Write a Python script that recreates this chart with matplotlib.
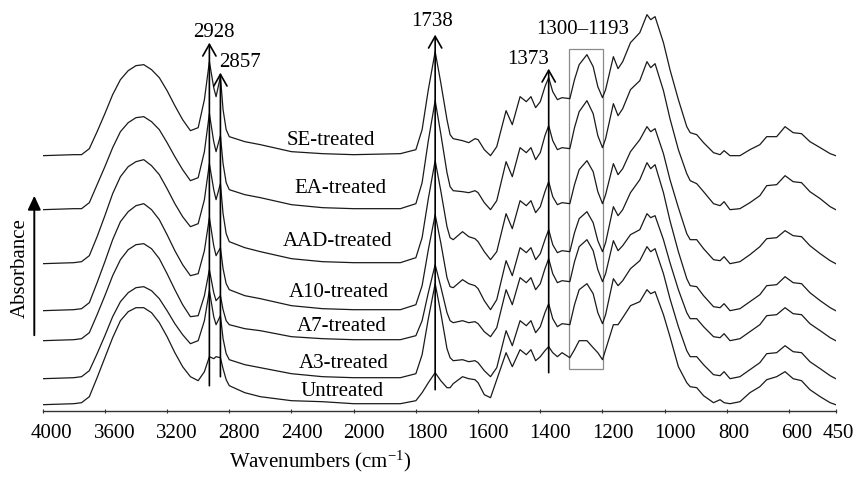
import numpy as np
import matplotlib
matplotlib.use("Agg")
import matplotlib.pyplot as plt
from matplotlib.patches import Rectangle, FancyArrowPatch
from matplotlib.transforms import ScaledTranslation

plt.rcParams["font.family"] = ["Liberation Serif", "DejaVu Serif"]
plt.rcParams["mathtext.fontset"] = "custom"
plt.rcParams["mathtext.rm"] = "Liberation Serif"
plt.rcParams["mathtext.default"] = "regular"

# wavenumber grid (cm-1)
wavenumber = [
    4000, 3800, 3750, 3700, 3650, 3600, 3550, 3500, 3450, 3400,
    3350, 3300, 3250, 3200, 3150, 3100, 3050, 3000, 2960, 2928,
    2900, 2885, 2857, 2840, 2820, 2800, 2700, 2600, 2400, 2200,
    2000, 1850, 1800, 1780, 1760, 1738, 1720, 1700, 1690, 1680,
    1650, 1630, 1610, 1600, 1580, 1560, 1540, 1510, 1490, 1465,
    1445, 1430, 1415, 1400, 1385, 1373, 1360, 1345, 1330, 1305,
    1290, 1275, 1250, 1230, 1215, 1200, 1190, 1165, 1150, 1135,
    1110, 1080, 1057, 1045, 1031, 1004, 983, 956, 929, 918,
    897, 875, 843, 822, 809, 790, 758, 726, 694, 672,
    640, 613, 587, 560, 533, 500, 468, 450,
]

# absorbance above each trace's own baseline (arbitrary units)
se_treated = [
    0.00, 0.01, 0.01, 0.07, 0.24, 0.42, 0.61, 0.76, 0.85, 0.90,
    0.91, 0.86, 0.78, 0.65, 0.50, 0.36, 0.25, 0.28, 0.56, 0.94,
    0.68, 0.59, 0.79, 0.46, 0.26, 0.19, 0.14, 0.11, 0.04, 0.02,
    0.01, 0.02, 0.06, 0.26, 0.66, 1.04, 0.73, 0.36, 0.21, 0.17,
    0.15, 0.13, 0.17, 0.16, 0.06, 0.00, 0.09, 0.45, 0.31, 0.59,
    0.54, 0.59, 0.48, 0.54, 0.69, 0.78, 0.64, 0.56, 0.58, 0.57,
    0.76, 0.91, 1.01, 0.89, 0.69, 0.58, 0.66, 0.99, 0.87, 0.94,
    1.13, 1.23, 1.41, 1.36, 1.39, 1.13, 0.86, 0.56, 0.29, 0.23,
    0.21, 0.13, 0.03, 0.01, 0.05, 0.00, 0.00, 0.06, 0.11, 0.19,
    0.19, 0.29, 0.23, 0.22, 0.14, 0.08, 0.02, 0.00,
]
ea_treated = [
    0.00, 0.01, 0.01, 0.07, 0.25, 0.43, 0.62, 0.78, 0.87, 0.92,
    0.93, 0.88, 0.80, 0.67, 0.53, 0.40, 0.29, 0.32, 0.58, 0.96,
    0.68, 0.58, 0.74, 0.46, 0.27, 0.20, 0.15, 0.12, 0.05, 0.02,
    0.01, 0.01, 0.06, 0.27, 0.69, 1.09, 0.76, 0.37, 0.23, 0.19,
    0.18, 0.17, 0.19, 0.17, 0.07, 0.00, 0.09, 0.48, 0.33, 0.62,
    0.57, 0.62, 0.50, 0.57, 0.74, 0.84, 0.69, 0.60, 0.62, 0.61,
    0.82, 0.98, 1.09, 0.96, 0.74, 0.62, 0.71, 1.06, 0.94, 1.01,
    1.20, 1.29, 1.48, 1.42, 1.46, 1.19, 0.91, 0.60, 0.36, 0.29,
    0.26, 0.18, 0.06, 0.04, 0.08, 0.00, 0.01, 0.07, 0.14, 0.24,
    0.25, 0.34, 0.28, 0.27, 0.18, 0.11, 0.03, 0.00,
]
aad_treated = [
    0.00, 0.01, 0.02, 0.08, 0.27, 0.48, 0.70, 0.87, 0.97, 1.02,
    1.04, 0.98, 0.89, 0.75, 0.60, 0.47, 0.37, 0.40, 0.64, 1.00,
    0.74, 0.64, 0.80, 0.50, 0.30, 0.22, 0.16, 0.12, 0.05, 0.02,
    0.01, 0.01, 0.06, 0.26, 0.65, 1.03, 0.73, 0.37, 0.26, 0.24,
    0.32, 0.27, 0.25, 0.22, 0.12, 0.04, 0.12, 0.50, 0.35, 0.63,
    0.58, 0.63, 0.51, 0.57, 0.72, 0.82, 0.67, 0.59, 0.61, 0.60,
    0.79, 0.94, 1.03, 0.92, 0.72, 0.60, 0.69, 1.00, 0.89, 0.95,
    1.12, 1.24, 1.37, 1.32, 1.35, 1.10, 0.84, 0.56, 0.30, 0.24,
    0.24, 0.15, 0.04, 0.03, 0.07, 0.00, 0.02, 0.09, 0.17, 0.25,
    0.26, 0.33, 0.28, 0.27, 0.18, 0.10, 0.03, 0.00,
]
a10_treated = [
    0.00, 0.01, 0.02, 0.08, 0.28, 0.49, 0.71, 0.89, 0.99, 1.05,
    1.07, 1.01, 0.91, 0.76, 0.60, 0.46, 0.35, 0.37, 0.60, 0.93,
    0.65, 0.55, 0.63, 0.42, 0.27, 0.21, 0.15, 0.12, 0.05, 0.02,
    0.01, 0.01, 0.06, 0.25, 0.61, 0.96, 0.68, 0.33, 0.24, 0.23,
    0.31, 0.27, 0.25, 0.22, 0.10, 0.01, 0.11, 0.50, 0.35, 0.63,
    0.58, 0.63, 0.51, 0.57, 0.71, 0.81, 0.66, 0.58, 0.60, 0.59,
    0.78, 0.92, 0.99, 0.88, 0.70, 0.59, 0.68, 1.04, 0.95, 1.01,
    1.18, 1.31, 1.48, 1.42, 1.46, 1.18, 0.90, 0.59, 0.32, 0.25,
    0.24, 0.15, 0.04, 0.03, 0.07, 0.00, 0.02, 0.09, 0.16, 0.25,
    0.26, 0.34, 0.28, 0.27, 0.18, 0.10, 0.03, 0.00,
]
a7_treated = [
    0.00, 0.01, 0.02, 0.08, 0.26, 0.45, 0.65, 0.81, 0.91, 0.96,
    0.97, 0.92, 0.82, 0.67, 0.51, 0.36, 0.24, 0.25, 0.45, 0.71,
    0.48, 0.40, 0.45, 0.31, 0.20, 0.16, 0.12, 0.10, 0.04, 0.02,
    0.01, 0.01, 0.05, 0.20, 0.48, 0.76, 0.54, 0.28, 0.20, 0.18,
    0.20, 0.18, 0.19, 0.17, 0.09, 0.04, 0.13, 0.51, 0.36, 0.63,
    0.58, 0.63, 0.51, 0.57, 0.72, 0.82, 0.67, 0.58, 0.60, 0.59,
    0.79, 0.94, 1.01, 0.90, 0.71, 0.59, 0.67, 1.00, 0.90, 0.95,
    1.06, 1.11, 1.27, 1.23, 1.25, 1.01, 0.78, 0.51, 0.28, 0.22,
    0.22, 0.14, 0.04, 0.03, 0.07, 0.00, 0.02, 0.09, 0.16, 0.25,
    0.26, 0.33, 0.27, 0.26, 0.17, 0.10, 0.03, 0.00,
]
a3_treated = [
    0.00, 0.01, 0.02, 0.08, 0.25, 0.43, 0.62, 0.77, 0.86, 0.91,
    0.92, 0.88, 0.80, 0.68, 0.55, 0.44, 0.35, 0.38, 0.58, 0.88,
    0.62, 0.54, 0.63, 0.40, 0.25, 0.19, 0.14, 0.11, 0.05, 0.02,
    0.01, 0.01, 0.05, 0.24, 0.60, 0.95, 0.66, 0.30, 0.21, 0.18,
    0.19, 0.17, 0.18, 0.16, 0.08, 0.02, 0.11, 0.48, 0.33, 0.58,
    0.53, 0.58, 0.46, 0.52, 0.66, 0.75, 0.60, 0.52, 0.55, 0.54,
    0.74, 0.89, 0.95, 0.85, 0.66, 0.55, 0.64, 1.00, 0.93, 0.98,
    1.10, 1.18, 1.32, 1.27, 1.30, 1.05, 0.80, 0.52, 0.28, 0.22,
    0.22, 0.14, 0.04, 0.03, 0.07, 0.00, 0.02, 0.09, 0.16, 0.25,
    0.26, 0.33, 0.27, 0.26, 0.17, 0.10, 0.03, 0.00,
]
untreated = [
    0.00, 0.01, 0.02, 0.08, 0.27, 0.47, 0.67, 0.84, 0.93, 0.97,
    0.97, 0.92, 0.82, 0.68, 0.52, 0.38, 0.28, 0.24, 0.33, 0.48,
    0.46, 0.48, 0.47, 0.36, 0.25, 0.19, 0.12, 0.08, 0.04, 0.03,
    0.01, 0.01, 0.04, 0.12, 0.22, 0.32, 0.24, 0.17, 0.17, 0.21,
    0.28, 0.26, 0.25, 0.22, 0.10, 0.07, 0.25, 0.52, 0.38, 0.55,
    0.50, 0.55, 0.44, 0.48, 0.54, 0.58, 0.52, 0.48, 0.52, 0.47,
    0.55, 0.64, 0.64, 0.57, 0.52, 0.45, 0.55, 0.80, 0.80, 0.87,
    0.99, 1.03, 1.15, 1.11, 1.13, 0.90, 0.68, 0.38, 0.22, 0.18,
    0.17, 0.09, 0.02, 0.05, 0.02, 0.01, 0.03, 0.12, 0.18, 0.25,
    0.28, 0.33, 0.26, 0.24, 0.15, 0.08, 0.02, 0.00,
]

sample_names = ["SE-treated", "EA-treated", "AAD-treated", "A10-treated",
                "A7-treated", "A3-treated", "Untreated"]
spectra = [se_treated, ea_treated, aad_treated, a10_treated,
           a7_treated, a3_treated, untreated]
stack_offset = [2.49, 1.95, 1.41, 0.94, 0.64, 0.26, 0.00]

marked_bands = [2928, 2857, 1738, 1373]
box_band = (1307, 1197)


# split axis: 4000-2000 drawn at half the scale of 2000-450
def fwd(w):
    w = np.asarray(w, dtype=float)
    return np.where(w > 2000, 2000 + (w - 2000) / 2.0, w)


def inv(p):
    p = np.asarray(p, dtype=float)
    return np.where(p > 2000, 2000 + (p - 2000) * 2.0, p)


fig = plt.figure(figsize=(8.57, 4.83), dpi=100)
ax = fig.add_axes([0.0498, 0.1497, 0.9254, 0.8297])
ax.set_xscale("function", functions=(fwd, inv))
ax.set_xlim(4000, 450)
ax.set_ylim(-0.06, 3.947)

for name, spec, off in zip(sample_names, spectra, stack_offset):
    ax.plot(wavenumber, np.array(spec) + off, color="#1a1a1a", lw=0.9)

# peak markers
arrow_spans = {2928: (0.19, 3.62), 2857: (0.28, 3.32), 1738: (0.15, 3.70), 1373: (0.32, 3.36)}
label_pos = {2928: (2898, 3.72), 2857: (2731, 3.42), 1738: (1747, 3.83), 1373: (1439, 3.45)}
for band in marked_bands:
    y0, y1 = arrow_spans[band]
    ax.annotate("", xy=(band, y1), xytext=(band, y0),
                arrowprops=dict(arrowstyle="->,head_length=0.6,head_width=0.34",
                                lw=1.2, color="black", mutation_scale=14,
                                shrinkA=0, shrinkB=0))
    lx, ly = label_pos[band]
    ax.text(lx, ly, str(band), ha="center", va="center", fontsize=15)

ax.add_patch(Rectangle((box_band[1], 0.354), box_band[0] - box_band[1], 3.2,
                       fill=False, edgecolor="#8a8a8a", lw=0.9))
ax.text(1264, 3.75, "1300\u20131193", ha="center", va="center", fontsize=15)

# sample labels
name_pos = [(2147, 2.64), (2084, 2.157), (2104, 1.63), (2095, 1.12),
            (2077, 0.78), (2067, 0.407), (2072, 0.13)]
for name, (lx, ly) in zip(sample_names, name_pos):
    ax.text(lx, ly, name, ha="center", va="center", fontsize=15)

# axes styling
ticks = [4000, 3600, 3200, 2800, 2400, 2000, 1800, 1600, 1400, 1200, 1000, 800, 600, 450]
ax.set_xticks(ticks)
ax.set_xticklabels([str(t) for t in ticks])
ax.xaxis.set_minor_locator(matplotlib.ticker.NullLocator())
ax.tick_params(axis="x", direction="inout", length=3, width=0.8, pad=8,
               labelsize=15, color="#333333")
shifts = [9, 10, 10, 10, 10, 10.5, 11, 10, 10, 10, 10, 6.5, 7.5, 3]
for lab, s in zip(ax.get_xticklabels(), shifts):
    lab.set_transform(lab.get_transform() + ScaledTranslation(s / 100, 0, fig.dpi_scale_trans))
ax.set_yticks([])
for side in ["left", "right", "top"]:
    ax.spines[side].set_visible(False)
ax.spines["bottom"].set_color("#333333")
ax.spines["bottom"].set_linewidth(1.0)
ax.patch.set_alpha(0)

ax.set_xlabel("Wavenumbers (cm$^{-1}$)", fontsize=15)
ax.xaxis.set_label_coords(0.35, -0.095)

fig.text(20 / 857, 1 - 268 / 483, "Absorbance", rotation=90, ha="center",
         va="center", fontsize=15)
fig.patches.append(FancyArrowPatch((34.3 / 857, 1 - 338 / 483), (34.3 / 857, 1 - 193 / 483),
                                   transform=fig.transFigure,
                                   arrowstyle="-|>,head_length=0.6,head_width=0.28",
                                   mutation_scale=14, lw=1.4, color="black"))

fig.savefig("out.png", dpi=100)
